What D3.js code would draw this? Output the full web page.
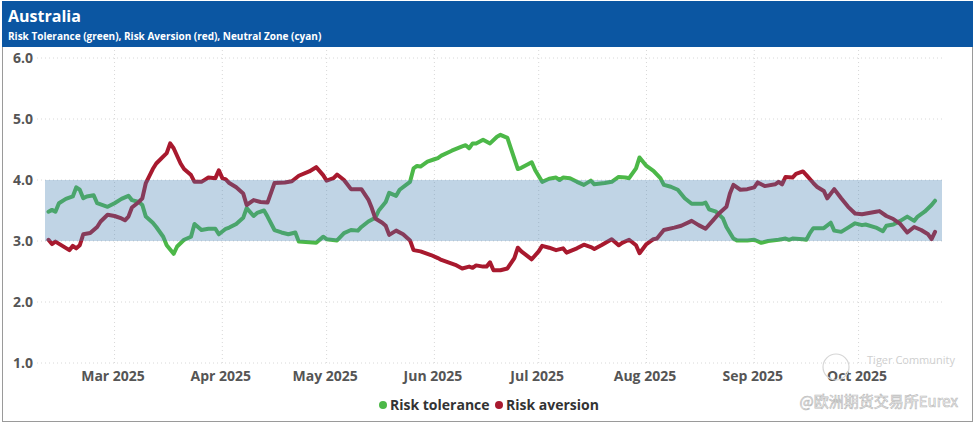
<!DOCTYPE html>
<html>
<head>
<meta charset="utf-8">
<script src="https://cdn.jsdelivr.net/npm/d3@7"></script>
<style>
  html, body { margin: 0; padding: 0; background: #fff; }
  svg { display: block; font-family: "Open Sans", "Noto Sans", sans-serif; }
</style>
</head>
<body>
<svg id="chart" width="975" height="424"></svg>
<script>
// ---------- data ----------
const title = "Australia";
const subtitle = "Risk Tolerance (green), Risk Aversion (red), Neutral Zone (cyan)";
const seriesNames = ["Risk tolerance", "Risk aversion"];
const neutralZone = [3.0, 4.0];
const yTicks = [1, 2, 3, 4, 5, 6];
const monthTicks = ["2025-03-01","2025-04-01","2025-05-01","2025-06-01","2025-07-01","2025-08-01","2025-09-01","2025-10-01"];
const xDomain = ["2025-02-09", "2025-10-25"];

const toleranceDates = ["02-10","02-11","02-12","02-13","02-15","02-17","02-18","02-19","02-20","02-21","02-23","02-24","02-27",
"03-01","03-03","03-05","03-06","03-08","03-09","03-10","03-12","03-13","03-15","03-16","03-18","03-19","03-21","03-23","03-24","03-26","03-28","03-30","03-31",
"04-02","04-03","04-05","04-07","04-08","04-10","04-11","04-13","04-14","04-16","04-18","04-20","04-22","04-23","04-26","04-28","04-30",
"05-01","05-04","05-06","05-08","05-10","05-11","05-13","05-15","05-16","05-18","05-19","05-21","05-22","05-25","05-26","05-27","05-28","05-30",
"06-01","06-02","06-03","06-06","06-09","06-10","06-11","06-12","06-13","06-15","06-17","06-19","06-20","06-22","06-23","06-25","06-26","06-29","06-30",
"07-02","07-04","07-06","07-07","07-08","07-10","07-12","07-14","07-16","07-17","07-20","07-22","07-24","07-26","07-27","07-29","07-30",
"08-01","08-03","08-05","08-06","08-08","08-10","08-12","08-14","08-17","08-18","08-19","08-21","08-23","08-24","08-26","08-27","08-30",
"09-01","09-03","09-05","09-08","09-10","09-11","09-12","09-15","09-16","09-17","09-18","09-21","09-23","09-24","09-26","09-28","09-30",
"10-02","10-03","10-06","10-08","10-09","10-11","10-13","10-15","10-17","10-18","10-20","10-22","10-23"];
const toleranceValues = [3.48,3.51,3.48,3.62,3.69,3.73,3.88,3.84,3.70,3.73,3.75,3.62,3.56,
3.62,3.69,3.74,3.67,3.64,3.59,3.40,3.30,3.23,3.07,2.93,2.79,2.91,3.02,3.07,3.28,3.18,3.20,3.20,3.11,
3.20,3.22,3.28,3.38,3.54,3.41,3.46,3.50,3.40,3.18,3.14,3.11,3.14,2.99,2.98,2.97,3.07,
3.03,3.01,3.13,3.18,3.17,3.23,3.32,3.38,3.50,3.64,3.79,3.74,3.84,3.97,4.19,4.23,4.22,4.30,
4.34,4.36,4.40,4.48,4.55,4.57,4.52,4.60,4.60,4.66,4.60,4.71,4.74,4.69,4.52,4.18,4.20,4.29,4.16,
3.97,4.02,4.04,4.00,4.04,4.03,3.97,3.92,3.99,3.93,3.95,3.97,4.05,4.04,4.03,4.19,4.37,
4.23,4.15,4.03,3.92,3.89,3.84,3.70,3.61,3.61,3.63,3.52,3.48,3.37,3.23,3.04,3.01,3.01,
3.02,2.97,3.00,3.02,3.04,3.02,3.04,3.03,3.02,3.13,3.21,3.21,3.30,3.17,3.15,3.22,3.29,
3.26,3.27,3.22,3.16,3.25,3.27,3.33,3.40,3.33,3.40,3.48,3.59,3.66];

const aversionDates = ["02-10","02-11","02-12","02-14","02-16","02-17","02-18","02-19","02-20","02-22","02-24","02-25","02-27",
"03-01","03-03","03-04","03-05","03-06","03-08","03-09","03-10","03-12","03-13","03-16","03-17","03-18","03-20","03-21","03-23","03-24","03-26","03-28","03-30","03-31",
"04-01","04-02","04-03","04-05","04-07","04-08","04-10","04-12","04-14","04-16","04-19","04-21","04-23","04-26","04-28","04-30",
"05-01","05-03","05-04","05-06","05-08","05-11","05-13","05-14","05-15","05-17","05-18","05-19","05-21","05-23","05-25","05-26","05-28","05-29","05-31",
"06-02","06-03","06-05","06-07","06-09","06-11","06-12","06-13","06-15","06-16","06-17","06-18","06-20","06-22","06-24","06-25","06-26","06-29",
"07-01","07-02","07-04","07-06","07-08","07-09","07-12","07-14","07-16","07-17","07-19","07-22","07-24","07-25","07-27","07-29","07-30",
"08-01","08-03","08-04","08-06","08-09","08-11","08-14","08-16","08-18","08-20","08-22","08-24","08-25","08-26","08-28","08-30",
"09-01","09-02","09-04","09-07","09-08","09-09","09-10","09-12","09-13","09-15","09-16","09-18","09-19","09-21","09-22","09-24","09-26","09-28","09-30",
"10-02","10-04","10-06","10-07","10-09","10-11","10-13","10-15","10-17","10-19","10-21","10-22","10-23"];
const aversionValues = [3.02,2.95,2.99,2.92,2.85,2.92,2.88,2.93,3.11,3.13,3.23,3.32,3.43,
3.41,3.37,3.34,3.40,3.55,3.64,3.70,3.95,4.18,4.27,4.44,4.60,4.52,4.27,4.18,4.08,3.97,3.97,4.04,4.03,4.16,
4.03,4.01,3.95,3.88,3.78,3.59,3.67,3.64,3.63,3.95,3.96,3.98,4.07,4.14,4.21,4.08,
3.99,4.03,4.09,4.00,3.85,3.85,3.68,3.54,3.37,3.30,3.25,3.10,3.17,3.11,3.01,2.85,2.83,2.81,2.77,
2.72,2.69,2.65,2.61,2.55,2.58,2.56,2.60,2.58,2.58,2.65,2.52,2.52,2.55,2.72,2.89,2.83,2.70,
2.83,2.92,2.89,2.85,2.88,2.81,2.88,2.94,2.90,2.87,2.93,3.03,2.93,2.97,3.02,2.93,2.80,
2.95,3.03,3.04,3.18,3.22,3.25,3.33,3.26,3.20,3.33,3.46,3.56,3.78,3.92,3.84,3.85,
3.88,3.96,3.90,3.93,3.97,3.93,4.05,4.04,4.10,4.14,4.08,3.95,3.89,3.82,3.70,3.85,3.70,3.56,3.45,
3.44,3.46,3.48,3.49,3.41,3.36,3.28,3.14,3.23,3.18,3.11,3.03,3.15];

// ---------- styles ----------
const colors = { tolerance: "#4cb848", aversion: "#a8192e", header: "#0b56a2", band: "rgba(70,130,180,0.34)" };

// ---------- chart ----------
const svg = d3.select("#chart");
const W = 975, H = 424;
const parse = d3.timeParse("%Y-%m-%d");
const md = s => parse("2025-" + s);

const x = d3.scaleTime().domain([parse(xDomain[0]), parse(xDomain[1])]).range([45, 942]);
const y = d3.scaleLinear().domain([1, 6]).range([363, 58]);

// frame
svg.append("rect").attr("x", 2.5).attr("y", 1.5).attr("width", W - 5).attr("height", H - 4)
  .attr("fill", "#fff").attr("stroke", "#9a9a9a").attr("stroke-width", 1);
// header
svg.append("rect").attr("x", 2).attr("y", 1).attr("width", W - 4).attr("height", 46).attr("fill", colors.header);
svg.append("text").attr("x", 8).attr("y", 22).attr("fill", "#fff")
  .style("font-size", "16px").style("font-weight", 700).text(title);
svg.append("text").attr("x", 8).attr("y", 40).attr("fill", "#fff")
  .style("font-size", "10px").style("font-weight", 700).text(subtitle);

// grid
const grid = svg.append("g");
grid.selectAll("line.h").data(yTicks).join("line").attr("class", "h")
  .attr("x1", 37).attr("x2", 943).attr("y1", d => y(d)).attr("y2", d => y(d))
  .attr("stroke", "#d8d8d8").attr("stroke-dasharray", "1,3");
grid.selectAll("line.v").data(monthTicks.map(parse)).join("line").attr("class", "v")
  .attr("x1", d => x(d)).attr("x2", d => x(d)).attr("y1", 50).attr("y2", 366)
  .attr("stroke", "#d8d8d8").attr("stroke-dasharray", "1,3");

// y axis labels
const yAxis = d3.axisLeft(y).tickValues(yTicks).tickFormat(d3.format(".1f")).tickSize(0).tickPadding(0);
const gy = svg.append("g").attr("transform", "translate(33,0)").call(yAxis);
gy.select(".domain").remove();
gy.selectAll("text").attr("fill", "#555").style("font-size", "14px").style("font-weight", 700)
  .style("font-family", "'Open Sans', sans-serif").attr("dy", "0.35em");

// x axis labels
const xAxis = d3.axisBottom(x).tickValues(monthTicks.map(parse)).tickFormat(d3.timeFormat("%b %Y")).tickSize(0).tickPadding(0);
const gx = svg.append("g").attr("transform", "translate(-2,376)").call(xAxis);
gx.select(".domain").remove();
gx.selectAll("text").attr("fill", "#555").style("font-size", "14px").style("font-weight", 700)
  .style("font-family", "'Open Sans', sans-serif").attr("dy", "0.35em").attr("y", 0);

// lines
const line = d3.line().x(d => x(d.date)).y(d => y(d.value)).curve(d3.curveLinear);
const tolData = toleranceDates.map((d, i) => ({ date: md(d), value: toleranceValues[i] }));
const avData = aversionDates.map((d, i) => ({ date: md(d), value: aversionValues[i] }));
svg.append("path").datum(tolData).attr("d", line).attr("fill", "none")
  .attr("stroke", colors.tolerance).attr("stroke-width", 4).attr("stroke-linejoin", "round").attr("stroke-linecap", "round");
svg.append("path").datum(avData).attr("d", line).attr("fill", "none")
  .attr("stroke", colors.aversion).attr("stroke-width", 4).attr("stroke-linejoin", "round").attr("stroke-linecap", "round");

// neutral band (translucent, drawn over the lines)
svg.append("rect").attr("x", x.range()[0]).attr("width", x.range()[1] - x.range()[0])
  .attr("y", y(neutralZone[1])).attr("height", y(neutralZone[0]) - y(neutralZone[1]))
  .attr("fill", colors.band);

// legend
const legend = svg.append("g").attr("transform", "translate(0,405)");
const legItems = [{ name: seriesNames[0], color: colors.tolerance, x: 383 }, { name: seriesNames[1], color: colors.aversion, x: 499 }];
legItems.forEach(it => {
  legend.append("circle").attr("cx", it.x).attr("cy", 0).attr("r", 4).attr("fill", it.color);
  legend.append("text").attr("x", it.x + 7).attr("y", 0).attr("dy", "0.35em").attr("fill", "#333")
    .style("font-size", "14px").style("font-weight", 700).text(it.name);
});

// watermarks
svg.append("circle").attr("cx", 836).attr("cy", 367).attr("r", 13).attr("fill", "none").attr("stroke", "#d6d6d6").attr("stroke-width", 1.2);
svg.append("text").attr("x", 955).attr("y", 364).attr("text-anchor", "end").attr("fill", "#cfcfcf").style("font-size", "11px").text("Tiger Community");
svg.append("text").attr("x", 958).attr("y", 407).attr("text-anchor", "end").attr("fill", "#fff").attr("stroke", "#bdbdbd").attr("stroke-width", 0.7)
  .style("font-size", "15px").style("font-family", "'Noto Sans CJK SC', sans-serif").text("@欧洲期货交易所Eurex");
</script>
</body>
</html>
